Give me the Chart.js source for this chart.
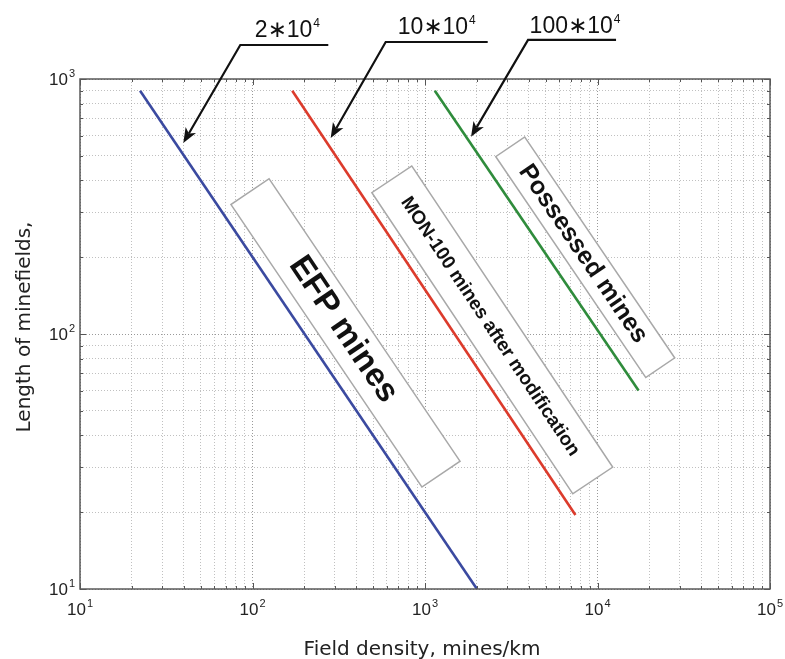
<!DOCTYPE html>
<html><head><meta charset="utf-8">
<script src="https://cdn.jsdelivr.net/npm/chart.js@4/dist/chart.umd.min.js"></script>
<style>html,body{margin:0;padding:0;background:#fff}canvas{display:block}</style>
</head><body>
<canvas id="c" width="785" height="659"></canvas>
<script>
// ---- data ----
const blueX = [22.3, 2000];   const blueY = [900, 10];
const redX = [170, 7450];     const redY = [900, 19.5];
const greenX = [1140, 17300]; const greenY = [900, 60];

const xTickValues = [10, 100, 1000, 10000, 100000];
const xTickExps = ['1', '2', '3', '4', '5'];
const yTickValues = [10, 100, 1000];
const yTickExps = ['1', '2', '3'];

const xTitle = 'Field density, mines/km';
const yTitle = 'Length of minefields,';

const calloutBases = ['2\u221710', '10\u221710', '100\u221710'];
const calloutExps = ['4', '4', '4'];
const calloutTipX = [39.7, 284, 1849];
const calloutTipY = [561, 587, 593];

const boxTexts = ['EFP mines', 'MON-100 mines after modification', 'Possessed mines'];
const boxAnchorX = [346, 2455, 8490];
const boxAnchorY = [101, 103.8, 200];

// ---- styling ----
const colors = ['#3b4aa0', '#dc3b2c', '#2f8c3c'];
const boxSizes = [[341, 46, 33], [362, 48, 19], [267, 35, 25]]; // length, width, font px
const calloutGeo = [[57, -98, 88, 47, -8], [55, -96, 102, 51, -8], [57, -97, 88, 47, -7]];

function gridVals(lo, hi) {
  const v = [];
  for (let d = lo; d < hi; d *= 10) for (let m = 1; m <= 9; m++) v.push(d * m);
  v.push(hi);
  return v;
}
const isMajor = v => Math.abs(Math.log10(v) - Math.round(Math.log10(v))) < 1e-9;

const series = [[blueX, blueY], [redX, redY], [greenX, greenY]];

function drawSup(ctx, base, exp, x, y, bf, ef, align, raise) {
  ctx.font = bf; const wb = ctx.measureText(base).width;
  ctx.font = ef; const we = ctx.measureText(exp).width;
  const tot = wb + we + 1;
  let x0 = x;
  if (align === 'center') x0 = x - tot / 2;
  else if (align === 'right') x0 = x - tot;
  ctx.textAlign = 'left'; ctx.textBaseline = 'alphabetic';
  ctx.font = bf; ctx.fillText(base, x0, y);
  ctx.font = ef; ctx.fillText(exp, x0 + wb + 1, y - raise);
}

const deco = {
  id: 'deco',
  beforeDatasetsDraw(chart) {
    const ctx = chart.ctx, xs = chart.scales.x, ys = chart.scales.y;
    ctx.save();
    boxTexts.forEach((t, i) => {
      const [sx, sy] = series[i];
      const ang = Math.atan2(ys.getPixelForValue(sy[1]) - ys.getPixelForValue(sy[0]),
                             xs.getPixelForValue(sx[1]) - xs.getPixelForValue(sx[0]));
      const cx = xs.getPixelForValue(boxAnchorX[i]), cy = ys.getPixelForValue(boxAnchorY[i]);
      const [L, W, fs] = boxSizes[i];
      ctx.save();
      ctx.translate(cx, cy); ctx.rotate(ang);
      ctx.fillStyle = '#fff'; ctx.strokeStyle = '#a8a8a8'; ctx.lineWidth = 1.5;
      ctx.fillRect(-L / 2, -W / 2, L, W); ctx.strokeRect(-L / 2, -W / 2, L, W);
      ctx.fillStyle = '#111'; ctx.font = 'bold ' + fs + 'px "Liberation Sans", Arial, sans-serif';
      ctx.textAlign = 'center'; ctx.textBaseline = 'middle';
      ctx.fillText(t, -4, 0);
      ctx.restore();
    });
    ctx.restore();
  },
  afterDraw(chart) {
    const ctx = chart.ctx, a = chart.chartArea, xs = chart.scales.x, ys = chart.scales.y;
    ctx.save();
    // tick marks inside
    ctx.strokeStyle = '#555'; ctx.lineWidth = 1;
    gridVals(10, 100000).forEach(v => {
      const px = Math.round(xs.getPixelForValue(v)) + 0.5, len = isMajor(v) ? 6 : 3;
      ctx.beginPath(); ctx.moveTo(px, a.bottom); ctx.lineTo(px, a.bottom - len);
      ctx.moveTo(px, a.top); ctx.lineTo(px, a.top + len); ctx.stroke();
    });
    gridVals(10, 1000).forEach(v => {
      const py = Math.round(ys.getPixelForValue(v)) + 0.5, len = isMajor(v) ? 6 : 3;
      ctx.beginPath(); ctx.moveTo(a.left, py); ctx.lineTo(a.left + len, py);
      ctx.moveTo(a.right, py); ctx.lineTo(a.right - len, py); ctx.stroke();
    });
    // box
    ctx.strokeStyle = '#5a5a5a'; ctx.lineWidth = 1.5;
    ctx.strokeRect(a.left, a.top, a.right - a.left, a.bottom - a.top);
    // tick labels
    ctx.fillStyle = '#222';
    const bf = '17px "Liberation Sans", Arial, sans-serif', ef = '11px "Liberation Sans", Arial, sans-serif';
    xTickValues.forEach((v, i) => drawSup(ctx, '10', xTickExps[i], xs.getPixelForValue(v), a.bottom + 26, bf, ef, 'center', 8));
    yTickValues.forEach((v, i) => drawSup(ctx, '10', yTickExps[i], a.left - 5, ys.getPixelForValue(v) + 6, bf, ef, 'right', 8));
    // axis titles
    ctx.font = '20px "DejaVu Sans", sans-serif'; ctx.fillStyle = '#222';
    ctx.textAlign = 'center'; ctx.textBaseline = 'alphabetic';
    ctx.fillText(xTitle, (a.left + a.right) / 2 - 3, 655);
    ctx.save(); ctx.translate(30, 327); ctx.rotate(-Math.PI / 2);
    ctx.fillText(yTitle, 0, 0); ctx.restore();
    // callouts
    calloutBases.forEach((b, i) => {
      const tx = xs.getPixelForValue(calloutTipX[i]), ty = ys.getPixelForValue(calloutTipY[i]);
      const [dx, dy, ul, tcx, tby] = calloutGeo[i];
      const ex = tx + dx, ey = ty + dy;
      ctx.strokeStyle = '#111'; ctx.fillStyle = '#111'; ctx.lineWidth = 2.2;
      ctx.beginPath(); ctx.moveTo(ex + ul, ey); ctx.lineTo(ex, ey);
      const ang = Math.atan2(ty - ey, tx - ex), hl = 15, hw = 6;
      const bx = tx - hl * Math.cos(ang), by = ty - hl * Math.sin(ang);
      ctx.lineTo(bx + 4 * Math.cos(ang), by + 4 * Math.sin(ang)); ctx.stroke();
      ctx.beginPath(); ctx.moveTo(tx, ty);
      ctx.lineTo(bx + hw * Math.sin(ang), by - hw * Math.cos(ang));
      ctx.lineTo(bx + 4 * Math.cos(ang), by + 4 * Math.sin(ang));
      ctx.lineTo(bx - hw * Math.sin(ang), by + hw * Math.cos(ang));
      ctx.closePath(); ctx.fill();
      drawSup(ctx, b, calloutExps[i], ex + tcx, ey + tby,
        '23px "Liberation Sans", "DejaVu Sans", sans-serif', '12px "Liberation Sans", sans-serif', 'center', 10);
    });
    ctx.restore();
  }
};

const gridColor = c => (c.tick && isMajor(c.tick.value)) ? 'rgba(120,120,120,0.75)' : 'rgba(150,150,150,0.6)';

new Chart(document.getElementById('c'), {
  type: 'scatter',
  data: {
    datasets: series.map((s, i) => ({
      data: s[0].map((x, k) => ({ x, y: s[1][k] })),
      showLine: true, borderColor: colors[i], borderWidth: 2.6, pointRadius: 0, fill: false
    }))
  },
  options: {
    responsive: false, animation: false, devicePixelRatio: 1,
    layout: { padding: { left: 80, top: 79, right: 15, bottom: 70 } },
    plugins: { legend: { display: false }, tooltip: { enabled: false } },
    scales: {
      x: {
        type: 'logarithmic', min: 10, max: 100000,
        afterBuildTicks: s => { s.ticks = gridVals(10, 100000).map(v => ({ value: v })); },
        ticks: { display: false },
        grid: { drawTicks: false, color: gridColor, lineWidth: 1 },
        border: { display: false, dash: [1, 2] }
      },
      y: {
        type: 'logarithmic', min: 10, max: 1000,
        afterBuildTicks: s => { s.ticks = gridVals(10, 1000).map(v => ({ value: v })); },
        ticks: { display: false },
        grid: { drawTicks: false, color: gridColor, lineWidth: 1 },
        border: { display: false, dash: [1, 2] }
      }
    }
  },
  plugins: [deco]
});
</script>
</body></html>
